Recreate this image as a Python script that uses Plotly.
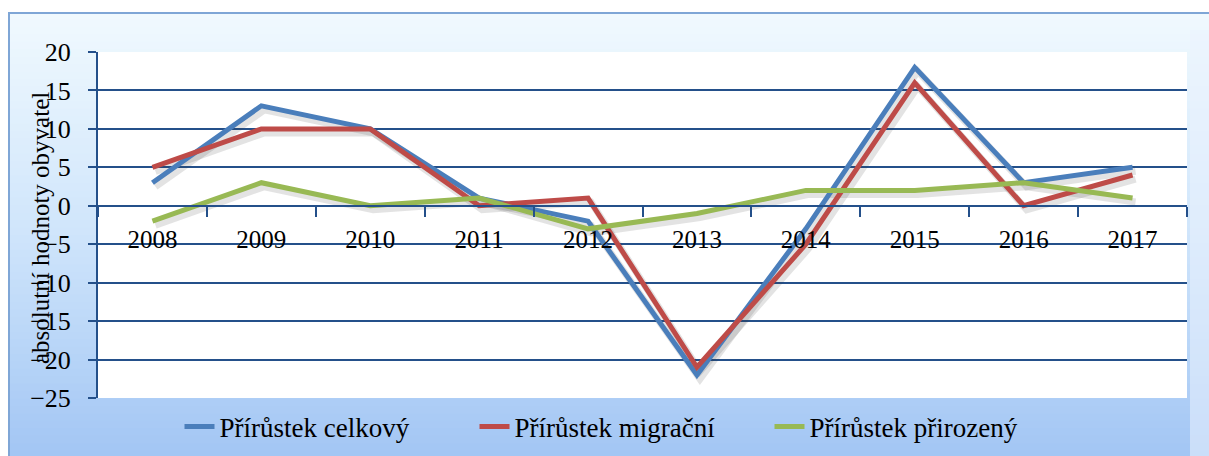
import plotly.graph_objects as go

years = ["2008", "2009", "2010", "2011", "2012", "2013", "2014", "2015", "2016", "2017"]
celkovy = [3, 13, 10, 1, -2, -22, -3, 18, 3, 5]
migracni = [5, 10, 10, 0, 1, -21, -5, 16, 0, 4]
prirozeny = [-2, 3, 0, 1, -3, -1, 2, 2, 3, 1]

series_names = ["Přírůstek celkový", "Přírůstek migrační", "Přírůstek přirozený"]
series_values = [celkovy, migracni, prirozeny]
series_colors = ["#4A7EBB", "#BE4B48", "#98B954"]

y_ticks = [20, 15, 10, 5, 0, -5, -10, -15, -20, -25]

W, H = 1209, 456
ML, MR, MT, MB = 98, 22, 52, 58
PW = W - ML - MR
PH = H - MT - MB
FONT = "Liberation Serif, 'Times New Roman', Times, 'DejaVu Serif', serif"
NAVY = "#24508A"


def px2x(px):
    return (px - ML) / PW


def px2y(py):
    return (H - MB - py) / PH


shapes = []
# gradient background
stops = [(0.0, (240, 249, 254)), (0.5, (207, 229, 251)), (1.0, (163, 198, 244))]


def col(t):
    for (a, ca), (b, cb) in zip(stops[:-1], stops[1:]):
        if a <= t <= b:
            f = (t - a) / (b - a)
            return "rgb(%d,%d,%d)" % tuple(round(ca[i] + (cb[i] - ca[i]) * f) for i in range(3))
    return "rgb(%d,%d,%d)" % stops[-1][1]


top, bot = 12, H + 2
n = 60
for i in range(n):
    y0 = top + (bot - top) * i / n
    y1 = top + (bot - top) * (i + 1) / n + 1
    shapes.append(dict(type="rect", xref="paper", yref="paper", layer="below",
                       x0=px2x(8), x1=px2x(W + 2), y0=px2y(y1), y1=px2y(y0),
                       line=dict(width=0), fillcolor=col(i / (n - 1))))
# right light band
shapes.append(dict(type="rect", xref="paper", yref="paper", layer="below",
                   x0=px2x(1190), x1=px2x(W + 2), y0=px2y(bot), y1=px2y(30),
                   line=dict(width=0), fillcolor="rgba(235,243,253,0.55)"))
# outer border
shapes.append(dict(type="rect", xref="paper", yref="paper", layer="below",
                   x0=px2x(9), x1=px2x(W + 5), y0=px2y(H + 5), y1=px2y(13),
                   line=dict(width=2, color="#7FA6D6"), fillcolor="rgba(0,0,0,0)"))
# white plot area
shapes.append(dict(type="rect", xref="paper", yref="paper", layer="below",
                   x0=0, x1=1, y0=0, y1=1, line=dict(width=0), fillcolor="white"))

fig = go.Figure()

# helper trace to set up the visible axes
fig.add_trace(go.Scatter(x=years, y=celkovy, mode="lines", line=dict(width=0, color="rgba(0,0,0,0)"),
                         showlegend=False, hoverinfo="skip", xaxis="x", yaxis="y"))

# shadows
for vals in series_values:
    fig.add_trace(go.Scatter(x=years, y=vals, mode="lines",
                             line=dict(width=7, color="rgba(60,60,60,0.14)"),
                             showlegend=False, hoverinfo="skip", xaxis="x2", yaxis="y2"))
# main lines
for name, vals, c in zip(series_names, series_values, series_colors):
    fig.add_trace(go.Scatter(x=years, y=vals, mode="lines", name=name,
                             line=dict(width=5, color=c), xaxis="x3", yaxis="y3"))

ppc = PW / len(years)
ppu = PH / 45.0
sx = 3 / ppc
sy = 4 / ppu

fig.update_layout(
    width=W, height=H,
    margin=dict(l=ML, r=MR, t=MT, b=MB, autoexpand=False),
    paper_bgcolor="white",
    plot_bgcolor="rgba(0,0,0,0)",
    font=dict(family=FONT, color="black", size=25),
    shapes=shapes,
    xaxis=dict(type="category", categoryorder="array", categoryarray=years,
               range=[-0.5, len(years) - 0.5], anchor="free", position=25 / 45,
               showline=True, linecolor=NAVY, linewidth=2,
               ticks="outside", tickson="boundaries", ticklen=10, tickwidth=2, tickcolor=NAVY,
               showgrid=False, zeroline=False, ticklabelstandoff=11,
               tickfont=dict(family=FONT, size=25, color="black")),
    yaxis=dict(range=[-25, 20], tickvals=y_ticks, showgrid=True, gridcolor=NAVY, gridwidth=2,
               ticks="outside", ticklen=8, tickwidth=2, tickcolor=NAVY,
               showline=True, linecolor=NAVY, linewidth=2, zeroline=False,
               ticklabelstandoff=12,
               tickfont=dict(family=FONT, size=26, color="black")),
    xaxis2=dict(type="category", categoryorder="array", categoryarray=years,
                overlaying="x", anchor="y2", visible=False,
                range=[-0.5 - sx, len(years) - 0.5 - sx]),
    yaxis2=dict(overlaying="y", anchor="x2", visible=False, range=[-25 + sy, 20 + sy]),
    xaxis3=dict(type="category", categoryorder="array", categoryarray=years,
                overlaying="x", anchor="y3", visible=False,
                range=[-0.5, len(years) - 0.5]),
    yaxis3=dict(overlaying="y", anchor="x3", visible=False, range=[-25, 20]),
    legend=dict(orientation="h", x=px2x(622), xanchor="center", y=px2y(427), yanchor="middle",
                entrywidth=250, entrywidthmode="pixels",
                bgcolor="rgba(0,0,0,0)", font=dict(family=FONT, size=27, color="black")),
    annotations=[dict(text="absolutní hodnoty obyvatel", xref="paper", yref="paper",
                      x=px2x(40), y=px2y(228), textangle=-90, showarrow=False,
                      xanchor="center", yanchor="middle",
                      font=dict(family=FONT, size=25, color="black"))],
)

fig.write_html("out.html", config={"displayModeBar": False},
               post_script="document.body.style.margin='0';document.body.style.overflow='hidden';")
